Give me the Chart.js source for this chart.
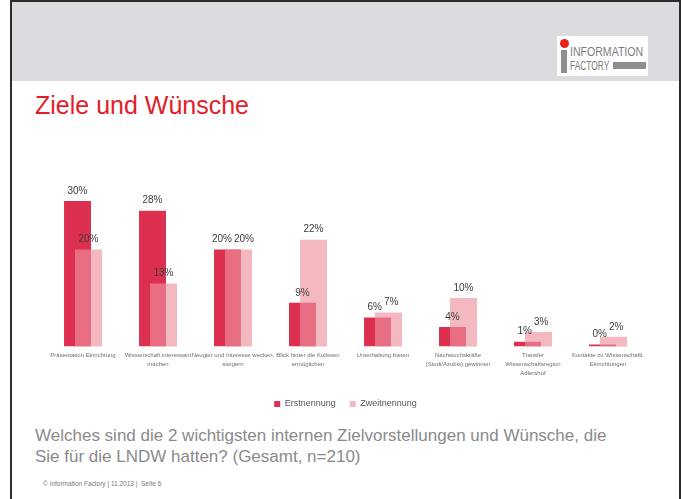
<!DOCTYPE html>
<html lang="de">
<head>
<meta charset="utf-8">
<title>Ziele und Wünsche</title>
<script src="https://cdn.jsdelivr.net/npm/chart.js@4.4.1/dist/chart.umd.min.js"></script>
<style>
    html, body { margin: 0; padding: 0; background: #fff; }
    body { width: 681px; height: 499px; position: relative; overflow: hidden; font-family: Arial, "Liberation Sans", sans-serif; }
    .frame { position: absolute; left: 10px; top: 0; width: 667px; height: 499px; border-left: 2px solid #2b2b2b; border-top: 2px solid #2b2b2b; border-right: 2px solid #2b2b2b; }
    .band { position: absolute; left: 12px; top: 2px; width: 667px; height: 79px; background: #dcdbe0; }
    .logo { position: absolute; left: 557px; top: 36px; width: 91px; height: 40px; background: #fff; }
    .logo .dot { position: absolute; left: 3px; top: 3px; width: 9px; height: 9px; border-radius: 50%; background: #e8231f; }
    .logo .stem { position: absolute; left: 4px; top: 14px; width: 6px; height: 23px; background: #8e8e8e; }
    .logo .l1, .logo .l2 { position: absolute; left: 13px; font-size: 12px; line-height: 12px; color: #7c7c7c; transform-origin: left center; white-space: nowrap; }
    .logo .l1 { top: 10px; transform: scaleX(0.88); }
    .logo .l2 { top: 24px; transform: scaleX(0.7); }
    .logo .bar { position: absolute; left: 56px; top: 26px; width: 33px; height: 7px; background: #8e8e8e; }
    .title { position: absolute; left: 35px; top: 93px; font-size: 25px; line-height: 25px; color: #e3202a; white-space: nowrap; }
    .question { position: absolute; left: 35px; top: 425px; font-size: 17px; line-height: 21px; color: #8a8a8a; white-space: nowrap; }
    .footer { position: absolute; left: 43px; top: 480px; font-size: 6.5px; line-height: 8px; color: #7a7a7a; white-space: nowrap; }
    #chart { position: absolute; left: 0; top: 0; }
</style>
</head>
<body>
<div class="frame"></div>
<div class="band"></div>
<div class="logo">
    <div class="dot"></div>
    <div class="stem"></div>
    <div class="l1">INFORMATION</div>
    <div class="l2">FACTORY</div>
    <div class="bar"></div>
</div>
<div class="title">Ziele und Wünsche</div>
<div class="question">Welches sind die 2 wichtigsten internen Zielvorstellungen und Wünsche, die<br>Sie für die LNDW hatten? (Gesamt, n=210)</div>
<div class="footer">© Information Factory | 11.2013 |&nbsp; Seite 6</div>
<canvas id="chart" width="681" height="499"></canvas>

<script>
// =========================
// DATA
// =========================
const categories = [
    ["Präsentation Einrichtung"],
    ["Wissenschaft interessant", "machen"],
    ["Neugier und Interesse wecken,", "steigern"],
    ["Blick hinter die Kulissen", "ermöglichen"],
    ["Unterhaltung bieten"],
    ["Nachwuchskräfte", "(Studi/Azubis) gewinnen"],
    ["Transfer", "Wissenschaftsregion", "Adlershof"],
    ["Kontakte zu Wissenschaftl.", "Einrichtungen"]
];
const seriesNames = ["Erstnennung", "Zweitnennung"];
const erstnennung = [30, 28, 20, 9, 6, 4, 1, 0.4];
const zweitnennung = [20, 13, 20, 22, 7, 10, 3, 2];

const RED = "rgb(221,48,80)";
const PINK = "rgba(238,146,158,0.65)";


// =========================
// PLUGINS
// =========================

// pink bars must sit on top of the red ones (overlap gets the mixed tone)
const pinkOnTop = {
    id: "pinkOnTop",
    beforeDatasetDraw(chart, args) {
        if (args.index === 1) return false;
    },
    afterDatasetDraw(chart, args) {
        if (args.index === 0) chart.getDatasetMeta(1).controller.draw();
    }
};

// value labels above the bars
const valueLabels = {
    id: "valueLabels",
    afterDatasetsDraw(chart) {
        const ctx = chart.ctx;
        const m0 = chart.getDatasetMeta(0).data;
        const m1 = chart.getDatasetMeta(1).data;
        const d0 = chart.data.datasets[0].data;
        const d1 = chart.data.datasets[1].data;

        ctx.save();
        ctx.font = "10px Arial, 'Liberation Sans', sans-serif";
        ctx.fillStyle = "#3c3c3c";
        ctx.textAlign = "center";
        ctx.textBaseline = "middle";

        m0.forEach((bar0, i) => {
            const bar1 = m1[i];
            const t0 = Math.round(d0[i]) + "%";
            const t1 = Math.round(d1[i]) + "%";
            let x0 = bar0.x;
            let x1 = bar1.x;
            const y0 = bar0.y - 10;
            const y1 = bar1.y - 10;

            // push labels apart when they sit on the same line
            if (Math.abs(y0 - y1) < 12) {
                const need = (ctx.measureText(t0).width + ctx.measureText(t1).width) / 2 + 2;
                const gap = x1 - x0;
                if (gap < need) {
                    x0 -= (need - gap) / 2;
                    x1 += (need - gap) / 2;
                }
            }
            ctx.fillText(t0, x0, y0);
            ctx.fillText(t1, x1, y1);
        });
        ctx.restore();
    }
};


// =========================
// CHART
// =========================
new Chart(document.getElementById("chart"), {
    type: "bar",
    data: {
        labels: categories,
        datasets: [
            {
                label: seriesNames[0],
                data: erstnennung,
                backgroundColor: RED,
                borderWidth: 0
            },
            {
                label: seriesNames[1],
                data: zweitnennung,
                backgroundColor: PINK,
                borderWidth: 0
            }
        ]
    },
    options: {
        responsive: false,
        animation: false,
        devicePixelRatio: 1,
        categoryPercentage: 0.2933,
        barPercentage: 2.45,
        layout: {
            padding: { left: 45.5, right: 35.5, top: 152.4, bottom: 80.5 }
        },
        scales: {
            x: {
                grid: { display: false, drawTicks: false },
                border: { display: false },
                ticks: {
                    autoSkip: false,
                    maxRotation: 0,
                    minRotation: 0,
                    padding: 4.5,
                    color: "#6e6e6e",
                    font: { size: 6, family: "Arial, 'Liberation Sans', sans-serif", lineHeight: 1.5 }
                },
                afterFit(scale) {
                    scale.height += 3;
                }
            },
            y: {
                display: false,
                min: 0,
                max: 40
            }
        },
        plugins: {
            legend: {
                position: "bottom",
                labels: {
                    boxWidth: 6,
                    boxHeight: 6,
                    padding: 14,
                    color: "#555",
                    font: { size: 9, family: "Arial, 'Liberation Sans', sans-serif" },
                    sort: (a, b) => a.datasetIndex - b.datasetIndex
                }
            },
            tooltip: { enabled: false }
        }
    },
    plugins: [pinkOnTop, valueLabels]
});
</script>
</body>
</html>
